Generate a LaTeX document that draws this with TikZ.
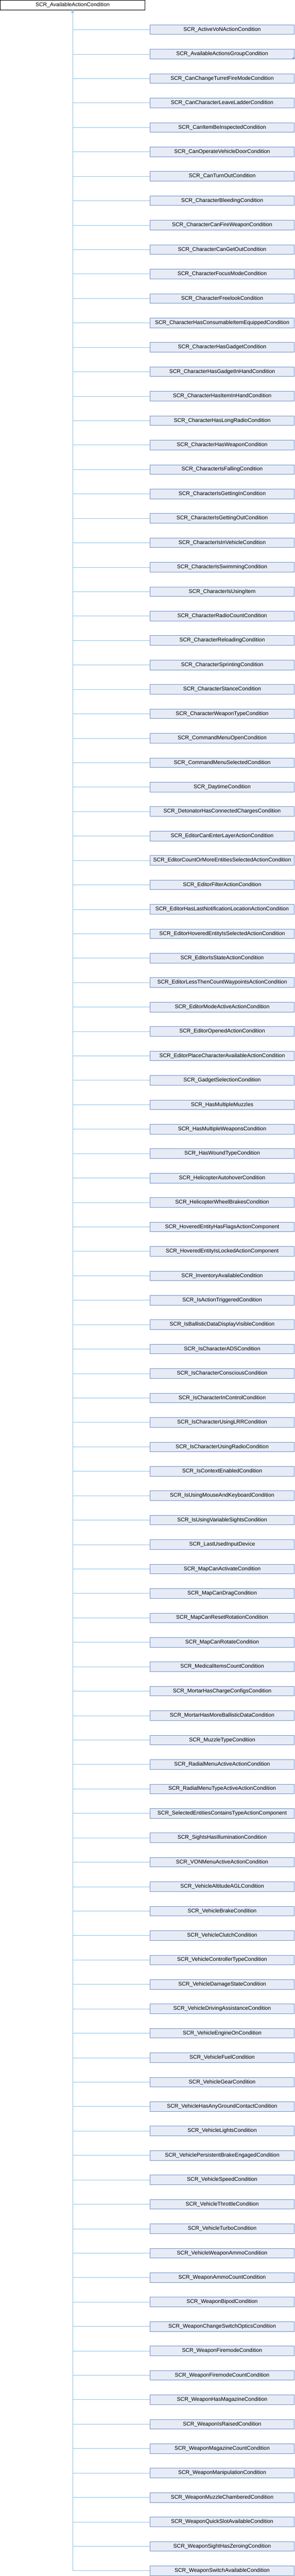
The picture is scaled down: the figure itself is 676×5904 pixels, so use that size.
\documentclass[tikz,border=0pt]{standalone}
\usepackage{fontspec}
\setmainfont{Liberation Sans}
\usetikzlibrary{arrows.meta}
\definecolor{edgecol}{HTML}{8CC4EC}
\definecolor{boxfill}{HTML}{E6EBF5}
\definecolor{boxdraw}{HTML}{7090CC}
\begin{document}
\begin{tikzpicture}[x=1pt,y=-1pt,
  basebox/.style={rectangle, minimum width=331pt, minimum height=22pt, inner sep=0pt, line width=1pt, font=\fontsize{12.4}{14}\selectfont},
  rootbox/.style={basebox, draw=black, fill=white},
  childbox/.style={basebox, draw=boxdraw, fill=boxfill},
  edge/.style={draw=edgecol, line width=1pt, -{Triangle[open, length=6pt, width=5pt]}}]
\useasboundingbox (0,0) rectangle (676,5904);
\fill[white] (0,0) rectangle (676,5904);
\node[rootbox] (root) at (166.5,12) {SCR\_AvailableActionCondition};
\foreach \n [count=\i from 0] in {ActiveVoNActionCondition,AvailableActionsGroupCondition,CanChangeTurretFireModeCondition,CanCharacterLeaveLadderCondition,CanItemBeInspectedCondition,CanOperateVehicleDoorCondition,CanTurnOutCondition,CharacterBleedingCondition,CharacterCanFireWeaponCondition,CharacterCanGetOutCondition,CharacterFocusModeCondition,CharacterFreelookCondition,CharacterHasConsumableItemEquippedCondition,CharacterHasGadgetCondition,CharacterHasGadgetInHandCondition,CharacterHasItemInHandCondition,CharacterHasLongRadioCondition,CharacterHasWeaponCondition,CharacterIsFallingCondition,CharacterIsGettingInCondition,CharacterIsGettingOutCondition,CharacterIsInVehicleCondition,CharacterIsSwimmingCondition,CharacterIsUsingItem,CharacterRadioCountCondition,CharacterReloadingCondition,CharacterSprintingCondition,CharacterStanceCondition,CharacterWeaponTypeCondition,CommandMenuOpenCondition,CommandMenuSelectedCondition,DaytimeCondition,DetonatorHasConnectedChargesCondition,EditorCanEnterLayerActionCondition,EditorCountOrMoreEntitiesSelectedActionCondition,EditorFilterActionCondition,EditorHasLastNotificationLocationActionCondition,EditorHoveredEntityIsSelectedActionCondition,EditorIsStateActionCondition,EditorLessThenCountWaypointsActionCondition,EditorModeActiveActionCondition,EditorOpenedActionCondition,EditorPlaceCharacterAvailableActionCondition,GadgetSelectionCondition,HasMultipleMuzzles,HasMultipleWeaponsCondition,HasWoundTypeCondition,HelicopterAutohoverCondition,HelicopterWheelBrakesCondition,HoveredEntityHasFlagsActionComponent,HoveredEntityIsLockedActionComponent,InventoryAvailableCondition,IsActionTriggeredCondition,IsBallisticDataDisplayVisibleCondition,IsCharacterADSCondition,IsCharacterConsciousCondition,IsCharacterInControlCondition,IsCharacterUsingLRRCondition,IsCharacterUsingRadioCondition,IsContextEnabledCondition,IsUsingMouseAndKeyboardCondition,IsUsingVariableSightsCondition,LastUsedInputDevice,MapCanActivateCondition,MapCanDragCondition,MapCanResetRotationCondition,MapCanRotateCondition,MedicalItemsCountCondition,MortarHasChargeConfigsCondition,MortarHasMoreBallisticDataCondition,MuzzleTypeCondition,RadialMenuActiveActionCondition,RadialMenuTypeActiveActionCondition,SelectedEntitiesContainsTypeActionComponent,SightsHasIlluminationCondition,VONMenuActiveActionCondition,VehicleAltitudeAGLCondition,VehicleBrakeCondition,VehicleClutchCondition,VehicleControllerTypeCondition,VehicleDamageStateCondition,VehicleDrivingAssistanceCondition,VehicleEngineOnCondition,VehicleFuelCondition,VehicleGearCondition,VehicleHasAnyGroundContactCondition,VehicleLightsCondition,VehiclePersistentBrakeEngagedCondition,VehicleSpeedCondition,VehicleThrottleCondition,VehicleTurboCondition,VehicleWeaponAmmoCondition,WeaponAmmoCountCondition,WeaponBipodCondition,WeaponChangeSwitchOpticsCondition,WeaponFiremodeCondition,WeaponFiremodeCountCondition,WeaponHasMagazineCondition,WeaponIsRaisedCondition,WeaponMagazineCountCondition,WeaponManipulationCondition,WeaponMuzzleChamberedCondition,WeaponQuickSlotAvailableCondition,WeaponSightHasZeroingCondition,WeaponSwitchAvailableCondition} {
  \node[childbox] (c\i) at (509.5, 68+56*\i) {SCR\_\n};
}
\foreach \i in {0,...,104} {
  \draw[edge] (c\i.west) -- (c\i.west -| root.south) -- (root.south);
}
\fill[boxdraw] (c1.south east) -- ++(-6,0) -- ++(6,-6) -- cycle;
\end{tikzpicture}
\end{document}
